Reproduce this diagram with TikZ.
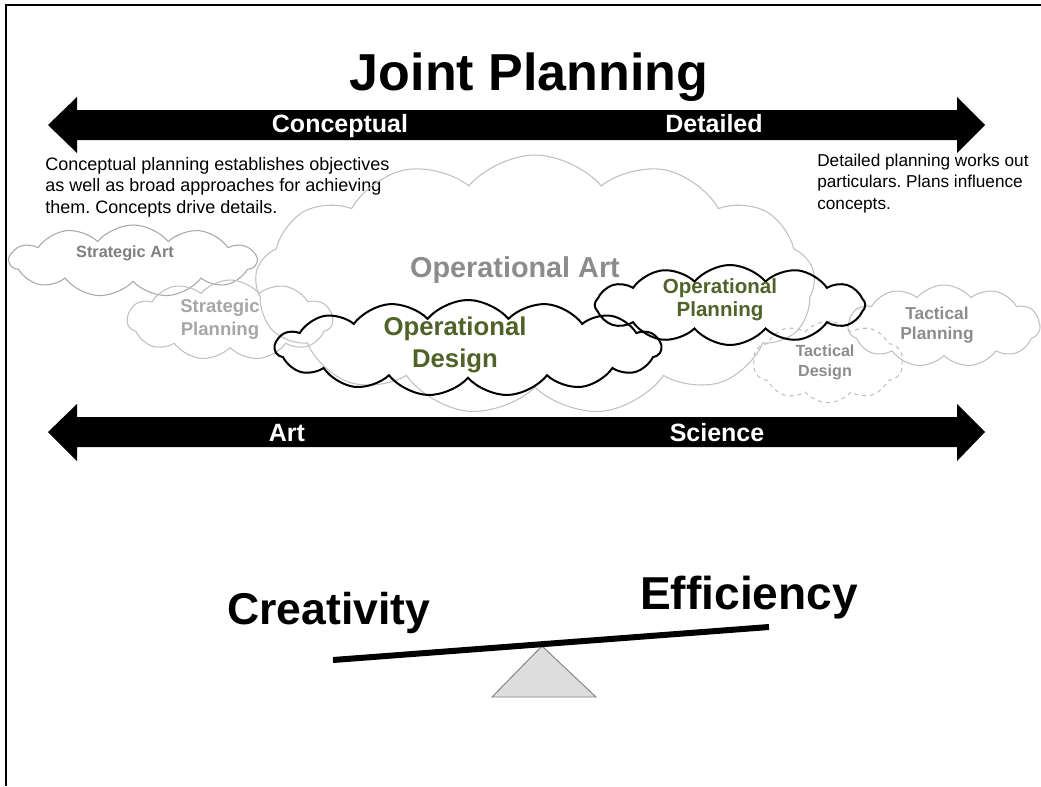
\documentclass[tikz,border=0pt]{standalone}
\usepackage{fontspec}
\setmainfont{Liberation Sans}
\frenchspacing
\usetikzlibrary{shapes.symbols}
\definecolor{dgreen}{HTML}{4F6228}
\definecolor{opartgray}{HTML}{8C8C8C}
\definecolor{sagray}{HTML}{7F7F7F}
\definecolor{spgray}{HTML}{A6A6A6}
\definecolor{tgray}{HTML}{8C8C8C}
\definecolor{cloudgray}{HTML}{C0C0C0}
\definecolor{cloudmid}{HTML}{A8A8A8}
\definecolor{fulcrum}{HTML}{DDDDDD}
\tikzset{
  px/.style={x=0.75pt,y=-0.75pt},
  cloudbase/.style={cloud, cloud ignores aspect, cloud puff arc=100, inner sep=0pt},
  softcloud/.style={cloudbase, draw=cloudgray, line width=0.8pt},
  midcloud/.style={cloudbase, draw=cloudmid, line width=0.8pt},
  hardcloud/.style={cloudbase, draw=black, line width=1.5pt},
  dashcloud/.style={cloudbase, draw=cloudgray, line width=0.8pt, dashed},
  arrowlabel/.style={text=white, font=\fontsize{18.75pt}{20pt}\selectfont\bfseries, anchor=base, inner sep=0pt},
  note/.style={align=left, anchor=base west, inner sep=0pt},
  cloudtext/.style={align=center, font=\bfseries, inner sep=0pt},
  bigword/.style={font=\fontsize{34pt}{36pt}\selectfont\bfseries, anchor=base, inner sep=0pt},
}
\begin{document}
\begin{tikzpicture}[px]
\useasboundingbox (0,0) rectangle (1041,786);
% frame
\draw[line width=2pt] (6,786) -- (6,5) -- (1041,5);
% title
\node[font=\fontsize{39pt}{41pt}\selectfont\bfseries, anchor=base, inner sep=0pt] (title) at (529,90) {Joint Planning};
% top arrow
\fill (48,125) -- (77,97) -- (77,110) -- (957,110) -- (957,97) -- (985,125) -- (957,153) -- (957,140) -- (77,140) -- (77,153) -- cycle;
\node[arrowlabel] (conceptual) at (340,132) {Conceptual};
\node[arrowlabel] (detailed) at (714,132) {Detailed};
% bottom arrow
\fill (48,432) -- (77,404) -- (77,417) -- (957,417) -- (957,404) -- (985,432) -- (957,461) -- (957,447) -- (77,447) -- (77,461) -- cycle;
\node[arrowlabel] (art) at (287,441) {Art};
\node[arrowlabel] (science) at (717,441) {Science};
% notes (anchor at baseline of last line)
\node[note, font=\fontsize{13.5pt}{16.1pt}\selectfont] (cnote) at (45,213) {Conceptual planning establishes objectives\\as well as broad approaches for achieving\\them. Concepts drive details.};
\node[note, font=\fontsize{12.9pt}{15.8pt}\selectfont] (dnote) at (817,209) {Detailed planning works out\\particulars. Plans influence\\concepts.};
% clouds
\node[softcloud, cloud puffs=13, minimum width=420pt, minimum height=195pt] (opartc) at (535,285) {};
\node[midcloud, cloud puffs=11, minimum width=185pt, minimum height=54pt] (sartc) at (133,261) {};
\node[softcloud, cloud puffs=11, minimum width=154pt, minimum height=60pt] (splanc) at (230,320) {};
\node[softcloud, cloud puffs=11, minimum width=144pt, minimum height=61.5pt] (tplanc) at (944,326) {};
\node[dashcloud, cloud puffs=10, minimum width=112.5pt, minimum height=61pt] (tdesc) at (828,362) {};
\node[hardcloud, cloud puffs=15, minimum width=289.5pt, minimum height=72pt] (opdesc) at (468,348) {};
\node[hardcloud, cloud puffs=12, minimum width=203pt, minimum height=60pt] (opplanc) at (730,305) {};
% cloud texts
\node[cloudtext, text=opartgray, font=\fontsize{21.6pt}{24pt}\selectfont\bfseries] (opart) at (515,270) {Operational Art};
\node[cloudtext, text=sagray, font=\fontsize{12.2pt}{14pt}\selectfont\bfseries] (sart) at (125,253) {Strategic Art};
\node[cloudtext, text=spgray, font=\fontsize{13.9pt}{17pt}\selectfont\bfseries] (splan) at (220,319) {Strategic\\Planning};
\node[cloudtext, text=dgreen, font=\fontsize{19.3pt}{23.5pt}\selectfont\bfseries] (opdes) at (455,345) {Operational\\Design};
\node[cloudtext, text=dgreen, font=\fontsize{15.4pt}{17.5pt}\selectfont\bfseries] (opplan) at (720,300) {Operational\\Planning};
\node[cloudtext, text=tgray, font=\fontsize{12.1pt}{15pt}\selectfont\bfseries] (tdes) at (825,362) {Tactical\\Design};
\node[cloudtext, text=tgray, font=\fontsize{13pt}{15pt}\selectfont\bfseries] (tplan) at (937,325) {Tactical\\Planning};
% seesaw
\coordinate (beamL) at (333,660);
\coordinate (beamR) at (769,627);
\draw[fill=fulcrum, draw=gray, line width=0.7pt] (542,646) -- (596,697) -- (492,697) -- cycle;
\draw[line width=4.5pt] (beamL) -- (beamR);
\node[bigword, font=\fontsize{33.4pt}{36pt}\selectfont\bfseries] (creativity) at (329,624) {Creativity};
\node[bigword, font=\fontsize{34.6pt}{36pt}\selectfont\bfseries] (efficiency) at (749,609) {Efficiency};
\end{tikzpicture}
\end{document}
